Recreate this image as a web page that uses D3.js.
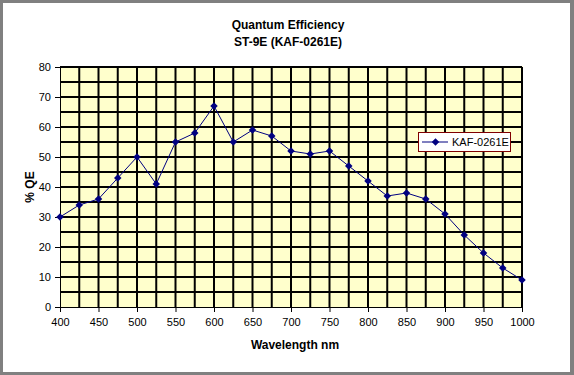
<!DOCTYPE html>
<html>
<head>
<meta charset="utf-8">
<script src="https://cdn.jsdelivr.net/npm/d3@7"></script>
<style>
  body { margin: 0; background: #fff; }
  svg { display: block; font-family: Arial, "Liberation Sans", sans-serif; }
</style>
</head>
<body>
<svg id="chart"></svg>
<script>
// data
const wavelengths = [400, 425, 450, 475, 500, 525, 550, 575, 600, 625, 650, 675, 700,
                     725, 750, 775, 800, 825, 850, 875, 900, 925, 950, 975, 1000];
const qeValues = [30, 34, 36, 43, 50, 41, 55, 58, 67, 55, 59, 57, 52,
                  51, 52, 47, 42, 37, 38, 36, 31, 24, 18, 13, 9];
const xTicks = [400, 450, 500, 550, 600, 650, 700, 750, 800, 850, 900, 950, 1000];
const yTicks = [0, 10, 20, 30, 40, 50, 60, 70, 80];
const seriesName = "KAF-0261E";
const titleLines = ["Quantum Efficiency", "ST-9E (KAF-0261E)"];

const W = 574, H = 375;
const margin = {top: 67, right: 52, bottom: 68, left: 60};
const width = W - margin.left - margin.right;
const height = H - margin.top - margin.bottom;

const svg = d3.select('#chart').attr('width', W).attr('height', H);

// frame: grey border with darker shadow on right/bottom
svg.append('rect').attr('x', 0).attr('y', 0).attr('width', W).attr('height', H).attr('fill', '#808080');
svg.append('rect').attr('x', 3).attr('y', 3).attr('width', W - 7).attr('height', H - 6).attr('fill', '#fff');

const x = d3.scaleLinear().domain([400, 1000]).range([0, width]);
const y = d3.scaleLinear().domain([0, 80]).range([height, 0]);

const chart = svg.append('g').attr('transform', `translate(${margin.left},${margin.top})`);

// plot background
chart.append('rect')
    .attr('x', 0).attr('y', -1)
    .attr('width', width + 1).attr('height', height + 1)
    .attr('fill', '#FFFFCC');

// grid lines every 25 nm and every 5 %
chart.append('g').selectAll('line')
    .data(d3.range(425, 1001, 25))
    .join('line')
    .attr('x1', d => x(d)).attr('x2', d => x(d))
    .attr('y1', 0).attr('y2', height)
    .attr('stroke', '#000').attr('stroke-width', 2);

chart.append('g').selectAll('line')
    .data(d3.range(5, 81, 5))
    .join('line')
    .attr('x1', 0).attr('x2', width)
    .attr('y1', d => y(d)).attr('y2', d => y(d))
    .attr('stroke', '#000').attr('stroke-width', 2);

// axes
const xAxis = chart.append('g')
    .attr('transform', `translate(0,${height})`)
    .call(d3.axisBottom(x).tickValues(xTicks).tickFormat(d3.format('d'))
        .tickSize(5).tickPadding(6).tickSizeOuter(0));
const yAxis = chart.append('g')
    .call(d3.axisLeft(y).tickValues(yTicks).tickSize(5).tickPadding(4).tickSizeOuter(0));

[xAxis, yAxis].forEach(a => {
    a.select('.domain').attr('stroke', '#000').attr('stroke-width', 1);
    a.selectAll('.tick line').attr('stroke', '#000');
    a.selectAll('.tick text').attr('fill', '#000').attr('font-size', 11)
        .attr('font-family', 'Arial, "Liberation Sans", sans-serif');
});

// series line + diamond markers
const pts = wavelengths.map((w, i) => ({w: w, v: qeValues[i]}));
const line = d3.line().x(d => x(d.w)).y(d => y(d.v));

chart.append('path')
    .datum(pts)
    .attr('d', line)
    .attr('fill', 'none')
    .attr('stroke', '#000080')
    .attr('stroke-width', 1);

const diamond = d3.symbol().type(d3.symbolDiamond2).size(36);
chart.append('g').selectAll('path')
    .data(pts)
    .join('path')
    .attr('transform', d => `translate(${x(d.w)},${y(d.v)})`)
    .attr('d', diamond)
    .attr('fill', '#000080');

// titles
svg.append('g').selectAll('text')
    .data(titleLines)
    .join('text')
    .attr('x', 288)
    .attr('y', (d, i) => 29 + i * 17)
    .attr('text-anchor', 'middle')
    .attr('font-size', 12)
    .attr('font-weight', 'bold')
    .text(d => d);

svg.append('text')
    .attr('x', margin.left + width / 2 + 4)
    .attr('y', 349)
    .attr('text-anchor', 'middle')
    .attr('font-size', 12)
    .attr('font-weight', 'bold')
    .text('Wavelength nm');

svg.append('text')
    .attr('transform', `translate(34,${margin.top + height / 2}) rotate(-90)`)
    .attr('text-anchor', 'middle')
    .attr('font-size', 12)
    .attr('font-weight', 'bold')
    .text('% QE');

// legend
const legend = svg.append('g').attr('transform', 'translate(418,132)');
legend.append('rect')
    .attr('x', 0.5).attr('y', 0.5)
    .attr('width', 92).attr('height', 19)
    .attr('fill', '#fff')
    .attr('stroke', '#800000').attr('stroke-width', 1);
legend.append('line')
    .attr('x1', 4).attr('x2', 30)
    .attr('y1', 10).attr('y2', 10)
    .attr('stroke', '#000080').attr('stroke-width', 1);
legend.append('path')
    .attr('transform', 'translate(17.5,10)')
    .attr('d', diamond)
    .attr('fill', '#000080');
legend.append('text')
    .attr('x', 34).attr('y', 14)
    .attr('font-size', 11)
    .text(seriesName);
</script>
</body>
</html>
